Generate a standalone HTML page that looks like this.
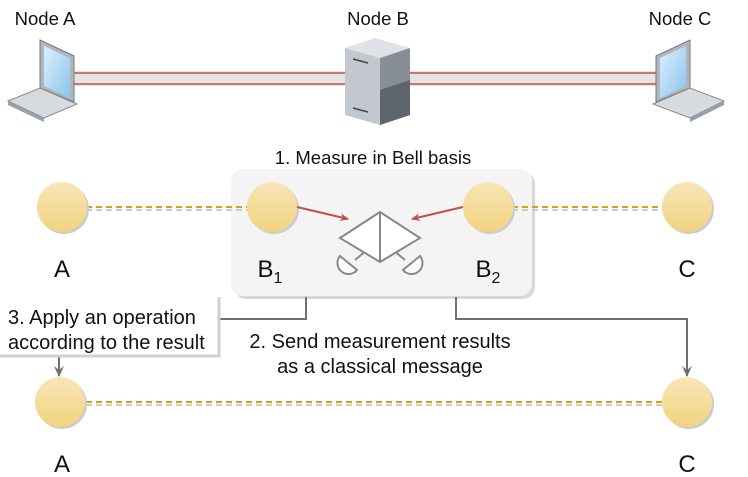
<!DOCTYPE html>
<html><head><style>
body{margin:0;background:#fff;}
svg{display:block;font-family:"Liberation Sans",Arial,sans-serif;}
</style></head><body>
<svg width="748" height="477" viewBox="0 0 748 477">
<defs>
<linearGradient id="cg" x1="0" y1="0" x2="0" y2="1">
<stop offset="0" stop-color="#f8e6b8"/><stop offset="1" stop-color="#f2d37e"/></linearGradient>
<linearGradient id="scr" x1="0" y1="0" x2="1" y2="1">
<stop offset="0" stop-color="#dcefff"/><stop offset="1" stop-color="#8cc4e8"/></linearGradient>
<marker id="ar" markerWidth="10" markerHeight="10" refX="8" refY="5" orient="auto" markerUnits="userSpaceOnUse">
<path d="M0,1 L9,5 L0,9 L3,5 z" fill="#c0504d"/></marker>
<marker id="ag" markerWidth="12" markerHeight="12" refX="5" refY="10" orient="0" markerUnits="userSpaceOnUse">
<path d="M0,0 L5,11 L10,0 L5,4 z" fill="#707070"/></marker>
</defs>
<g font-size="18.5" fill="#111" text-anchor="middle">
<text x="45" y="25">Node A</text><text x="378" y="25">Node B</text><text x="680" y="25">Node C</text>
</g>
<g>
<rect x="70" y="71" width="280" height="15" fill="#e4e4e4"/>
<rect x="405" y="71" width="255" height="15" fill="#e4e4e4"/>
<line x1="70" y1="73" x2="350" y2="73" stroke="#c0504d" stroke-width="1.5"/>
<line x1="70" y1="84" x2="350" y2="84" stroke="#c0504d" stroke-width="1.5"/>
<line x1="405" y1="73" x2="660" y2="73" stroke="#c0504d" stroke-width="1.5"/>
<line x1="405" y1="84" x2="660" y2="84" stroke="#c0504d" stroke-width="1.5"/>
</g>
<g>
<polygon points="40,40 74,56 74,102 40,88" fill="#b0b6bf" stroke="#777" stroke-width="1"/>
<polygon points="44,46 70,58 70,98 44,86" fill="url(#scr)"/>
<polygon points="8,101 40,88 77,104 44,118" fill="#d7dbe0" stroke="#888" stroke-width="1"/>
<polygon points="8,101 44,118 44,122 8,105" fill="#9aa0a8"/>
</g>
<g>
<polygon points="656,56 690,40 690,88 656,102" fill="#b0b6bf" stroke="#777" stroke-width="1"/>
<polygon points="660,58 686,46 686,86 660,98" fill="url(#scr)"/>
<polygon points="653,104 690,88 724,101 690,118" fill="#d7dbe0" stroke="#888" stroke-width="1"/>
<polygon points="690,118 724,101 724,105 690,122" fill="#9aa0a8"/>
</g>
<g>
<polygon points="345,48 375,38 410,48 380,58" fill="#dfe2e7"/>
<polygon points="345,48 380,58 380,125 345,115" fill="#c3c8d0"/>
<polygon points="380,58 410,48 410,115 380,125" fill="#888e96"/>
<polygon points="380,90 410,80 410,115 380,125" fill="#5f656c"/>
<line x1="353" y1="59" x2="368" y2="63" stroke="#444" stroke-width="1.5"/>
<line x1="353" y1="108" x2="368" y2="112" stroke="#444" stroke-width="1.5"/>
</g>
<text x="373" y="164" font-size="18.5" fill="#111" text-anchor="middle">1. Measure in Bell basis</text>
<rect x="234" y="172" width="301" height="127" rx="12" fill="#d8d8d8"/>
<rect x="231" y="169" width="301" height="127" rx="12" fill="#f4f4f4"/>
<g stroke-width="2" stroke-dasharray="6,4">
<line x1="86" y1="210" x2="248" y2="210" stroke="#ccc"/>
<line x1="86" y1="207" x2="248" y2="207" stroke="#d9a010"/>
<line x1="512" y1="210" x2="664" y2="210" stroke="#ccc"/>
<line x1="512" y1="207" x2="664" y2="207" stroke="#d9a010"/>
<line x1="86" y1="405" x2="664" y2="405" stroke="#ccc"/>
<line x1="86" y1="402" x2="664" y2="402" stroke="#d9a010"/>
</g>
<g>
<circle cx="64" cy="209" r="25" fill="#ccc"/><circle cx="62" cy="207" r="25" fill="url(#cg)"/>
<circle cx="274" cy="209" r="25" fill="#ccc"/><circle cx="272" cy="207" r="25" fill="url(#cg)"/>
<circle cx="490" cy="209" r="25" fill="#ccc"/><circle cx="488" cy="207" r="25" fill="url(#cg)"/>
<circle cx="689" cy="209" r="25" fill="#ccc"/><circle cx="687" cy="207" r="25" fill="url(#cg)"/>
<circle cx="62" cy="404" r="25" fill="#ccc"/><circle cx="60" cy="402" r="25" fill="url(#cg)"/>
<circle cx="689" cy="404" r="25" fill="#ccc"/><circle cx="687" cy="402" r="25" fill="url(#cg)"/>
</g>
<line x1="297" y1="207" x2="348" y2="219" stroke="#c0504d" stroke-width="2" marker-end="url(#ar)"/>
<line x1="463" y1="207" x2="412" y2="219" stroke="#c0504d" stroke-width="2" marker-end="url(#ar)"/>
<g stroke="#888" stroke-width="2" fill="#fff">
<line x1="355" y1="260" x2="367" y2="250"/>
<line x1="405" y1="260" x2="393" y2="250"/>
<path d="M340,256 L357,270 A10,10 0 0 1 340,256 z" transform="rotate(0)"/>
<path d="M420,256 L403,270 A10,10 0 0 0 420,256 z"/>
<polygon points="340,238 380,212 420,238 380,262"/>
<line x1="380" y1="212" x2="380" y2="262"/>
</g>
<g font-size="24" fill="#111" text-anchor="middle">
<text x="62" y="277">A</text><text x="687" y="277">C</text>
<text x="62" y="472">A</text><text x="687" y="472">C</text>
<text x="270" y="277">B<tspan font-size="16" dy="6">1</tspan></text>
<text x="488" y="277">B<tspan font-size="16" dy="6">2</tspan></text>
</g>
<g fill="none" stroke="#707070" stroke-width="2">
<polyline points="306,297 306,319 218,319"/>
<polyline points="456,297 456,319 687,319 687,376" marker-end="url(#ag)"/>
<line x1="59" y1="356" x2="59" y2="376" marker-end="url(#ag)"/>
</g>
<polyline points="0,356 219,356 219,297" fill="none" stroke="#d0d0d0" stroke-width="3"/>
<rect x="0" y="297" width="217" height="57" fill="#fff"/>
<g font-size="20" fill="#111">
<text x="8" y="324">3. Apply an operation</text>
<text x="8" y="349">according to the result</text>
</g>
<g font-size="20" fill="#111" text-anchor="middle">
<text x="380" y="348">2. Send measurement results</text>
<text x="380" y="373">as a classical message</text>
</g>
</svg>
</body></html>
